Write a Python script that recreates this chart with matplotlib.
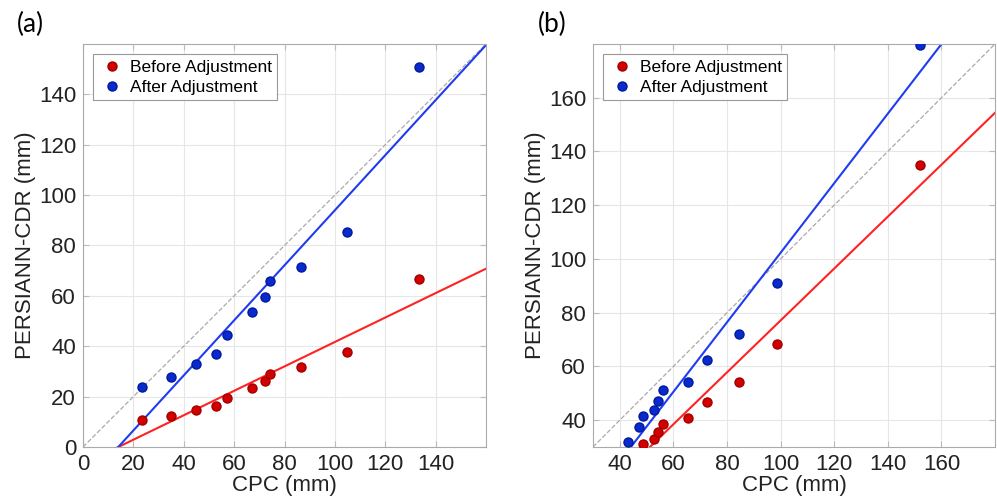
import numpy as np
import matplotlib
matplotlib.use('Agg')
from matplotlib import pyplot as plt

plt.rcParams['font.family'] = ['Liberation Sans', 'DejaVu Sans']

# panel (a) data
cpc_a = [23.4, 35.0, 44.7, 52.9, 57.1, 67.0, 72.1, 74.3, 86.6, 105.0, 133.4]
before_a = [10.6, 12.2, 14.7, 16.3, 19.6, 23.6, 26.2, 29.0, 31.6, 37.8, 66.8]
after_a = [23.9, 27.6, 33.0, 37.0, 44.3, 53.4, 59.4, 65.9, 71.3, 85.4, 151.0]
fit_before_a = (0.485, -6.8)   # slope, intercept
fit_after_a = (1.093, -15.3)

# panel (b) data
cpc_b = [48.7, 52.7, 54.1, 56.1, 65.6, 72.5, 84.4, 98.5, 152.1]
before_b = [31.2, 33.0, 35.5, 38.5, 40.7, 46.7, 54.2, 68.5, 135.1]
cpc_b_after = [42.9, 47.2, 48.7, 52.7, 54.1, 56.1, 65.6, 72.5, 84.4, 98.5, 152.1]
after_b = [31.7, 37.6, 41.4, 43.9, 47.2, 51.2, 54.2, 62.2, 72.1, 91.2, 179.7]
fit_before_b = (0.966, -19.5)
fit_after_b = (1.294, -27.1)

fig = plt.figure(figsize=(9.97, 5.04), dpi=100)
ax_a = fig.add_axes([83/997, 1 - 447/504, 403/997, 403/504])
ax_b = fig.add_axes([593/997, 1 - 447/504, 402/997, 403/504])


def draw_panel(ax, x_before, y_before, x_after, y_after, fb, fa, lims, ticks, tag, tag_x):
    lo, hi = lims
    ax.plot([lo, hi], [lo, hi], '--', color='#aaaaaa', lw=0.9, zorder=1)
    xx = np.array([lo, hi])
    ax.plot(xx, fb[0] * xx + fb[1], color='#ff2222', lw=1.5, zorder=2)
    ax.plot(xx, fa[0] * xx + fa[1], color='#1f3cf0', lw=1.5, zorder=2)
    ax.plot(x_before, y_before, 'o', color='#d40000', mec='#a00000', ms=6.5,
            ls='none', label='Before Adjustment', zorder=3)
    ax.plot(x_after, y_after, 'o', color='#0a2ad0', mec='#001a9a', ms=6.5,
            ls='none', label='After Adjustment', zorder=3)
    ax.set_xlim(lo, hi)
    ax.set_ylim(lo, hi)
    ax.set_xticks(ticks)
    ax.set_yticks(ticks)
    ax.grid(True, color='#e6e6e6', lw=0.8)
    ax.set_axisbelow(True)
    ax.tick_params(direction='in', length=4, color='#bbbbbb', labelsize=16,
                   labelcolor='#222222', top=True, right=True, pad=5)
    for s in ax.spines.values():
        s.set_color('#aaaaaa')
    ax.set_xlabel('CPC (mm)', fontsize=16, color='#222222', labelpad=0)
    ax.set_ylabel('PERSIANN-CDR (mm)', fontsize=16, color='#222222', labelpad=2)
    leg = ax.legend(loc='upper left', fontsize=12.5, fancybox=False, framealpha=1,
                    edgecolor='#999999', handletextpad=0.3, borderpad=0.3,
                    labelspacing=0.3, handlelength=1.5, borderaxespad=0.6)
    leg.get_frame().set_linewidth(0.8)
    ax.text(tag_x, 1.03, tag, transform=ax.transAxes, fontsize=19,
            family=['Lato', 'DejaVu Sans'], va='baseline', ha='left')


draw_panel(ax_a, cpc_a, before_a, cpc_a, after_a, fit_before_a, fit_after_a,
           (0, 160), [0, 20, 40, 60, 80, 100, 120, 140], '(a)', -0.165)
draw_panel(ax_b, cpc_b, before_b, cpc_b_after, after_b, fit_before_b, fit_after_b,
           (30, 180), [40, 60, 80, 100, 120, 140, 160], '(b)', -0.137)

fig.savefig('out.png', dpi=100)
